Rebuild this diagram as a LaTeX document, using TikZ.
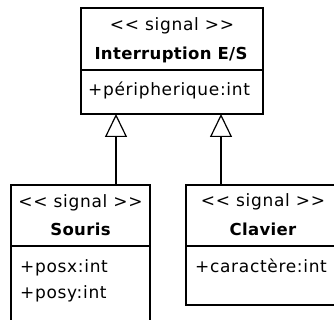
\documentclass[tikz,border=0pt]{standalone}
\usepackage{fontspec}
\setmainfont{DejaVu Sans}
\newfontfamily\regf{DejaVu Sans}[LetterSpace=4]
\newfontfamily\boldf{DejaVu Sans Bold}[LetterSpace=2]
\usetikzlibrary{arrows.meta}
\tikzset{
  umlbox/.style={draw, line width=1.2pt, inner sep=0pt, outer sep=0pt},
  stereo/.style={inner sep=0pt, anchor=base, font=\regf\fontsize{17}{20}\selectfont},
  cname/.style={inner sep=0pt, anchor=base, font=\boldf\fontsize{16.5}{20}\selectfont},
  attr/.style={inner sep=0pt, anchor=base west, font=\regf\fontsize{17}{20}\selectfont},
  inherit/.style={line width=1.2pt, -{Triangle[open, width=22pt, length=23pt, line width=1.2pt]}}
}
\newcommand{\stereotxt}{<{}< signal >{}>}
\begin{document}
\begin{tikzpicture}[x=1pt, y=-1pt]
\useasboundingbox (0,0) rectangle (334,320);
\clip (0,0) rectangle (334,320);
% boxes
\node[umlbox, minimum width=182pt, minimum height=106pt] (interr) at (172,61) {};
\node[umlbox, minimum width=139pt, minimum height=150pt] (souris) at (80.5,260) {};
\node[umlbox, minimum width=154pt, minimum height=120pt] (clavier) at (263,245) {};
% dividers
\coordinate (d1) at (0,70);
\coordinate (d2) at (0,246);
\draw[line width=1.2pt] (interr.west |- d1) -- (interr.east |- d1);
\draw[line width=1.2pt] (souris.west |- d2) -- (souris.east |- d2);
\draw[line width=1.2pt] (clavier.west |- d2) -- (clavier.east |- d2);
% texts
\node[stereo] (t1) at (172,31) {\stereotxt};
\node[cname] (n1) at (171,60) {Interruption E/S};
\node[attr] (a1) at (88,96) {+péripherique:int};
\node[stereo] (t2) at (80.5,207.5) {\stereotxt};
\node[cname] (n2) at (80.5,235) {Souris};
\node[attr] (a2) at (20,272.5) {+posx:int};
\node[attr] (a3) at (20,298) {+posy:int};
\node[stereo] (t3) at (263,207) {\stereotxt};
\node[cname] (n3) at (263,235) {Clavier};
\node[attr] (a4) at (195,272) {+caractère:int};
% inheritance
\coordinate (x1) at (116,0);
\coordinate (x2) at (221,0);
\draw[inherit] (souris.north -| x1) -- (interr.south -| x1);
\draw[inherit] (clavier.north -| x2) -- (interr.south -| x2);
\end{tikzpicture}
\end{document}
